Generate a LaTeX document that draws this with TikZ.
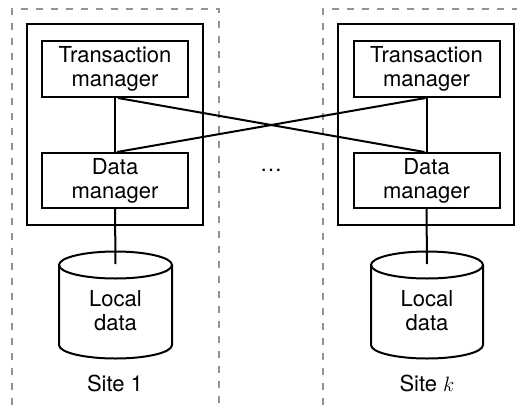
\documentclass[tikz,border=0pt]{standalone}
\usepackage{fontspec}
\setmainfont{TeX Gyre Heros}
\begin{document}
\begin{tikzpicture}[x=1pt,y=1pt,
  thickline/.style={line width=2pt, draw=black},
  sitebox/.style={draw, line width=1.3pt, gray!85, dash pattern=on 7pt off 8pt},
  outerbox/.style={draw, line width=2pt, minimum width=176pt, minimum height=201pt, inner sep=0pt},
  mgrbox/.style={draw, line width=2pt, minimum width=146pt, minimum height=56pt, inner sep=0pt,
    align=center, font=\fontsize{22}{24}\selectfont},
  label text/.style={align=center, font=\fontsize{22}{24}\selectfont, inner sep=0pt}
]
\useasboundingbox (0,-405) rectangle (517,0);

% site borders (dashed)
\draw[sitebox] (12,-405) -- (12,-9) -- (219,-9) -- (219,-405);
\draw[sitebox] (323,-405) -- (323,-9) -- (517,-9);

% ---------- Site 1 ----------
\node[outerbox] (out1) at (115,-124.5) {};
\node[mgrbox] (tm1) at (115,-69) {Transaction\\manager};
\node[mgrbox, minimum height=55pt] (dm1) at (115,-180.5) {Data\\manager};
\coordinate (cyl1top) at (115.5,-264);
\draw[thickline] (59,-265) -- (59,-345)
  arc[start angle=180, end angle=360, x radius=56.5pt, y radius=13.5pt] -- (172,-265);
\draw[thickline] (115.5,-265) ellipse [x radius=56.5pt, y radius=13.5pt];
\node[label text] (ld1) at (115.5,-311) {Local\\data};
\node[label text] (site1) at (115,-383) {Site 1};

% ---------- Site k ----------
\node[outerbox] (out2) at (426,-124.5) {};
\node[mgrbox] (tm2) at (426.5,-69) {Transaction\\manager};
\node[mgrbox, minimum height=55pt] (dm2) at (426.5,-180.5) {Data\\manager};
\coordinate (cyl2top) at (427,-264);
\draw[thickline] (371,-265) -- (371,-345)
  arc[start angle=180, end angle=360, x radius=56pt, y radius=13.5pt] -- (483,-265);
\draw[thickline] (427,-265) ellipse [x radius=56pt, y radius=13.5pt];
\node[label text] (ld2) at (427,-311) {Local\\data};
\node[label text] (sitek) at (427,-383) {Site $k$};

% dots between sites
\node[label text] (dots) at (271,-170) {\dots};

% connectors
\draw[thickline] (tm1.south) -- (dm1.north);
\draw[thickline] (tm2.south) -- (dm2.north);
\draw[thickline] ([xshift=3pt]tm1.south) -- ([xshift=-2pt]dm2.north);
\draw[thickline] ([xshift=2pt]dm1.north) -- ([xshift=-1pt]tm2.south);
\draw[thickline] (dm1.south) -- (cyl1top);
\draw[thickline] (dm2.south) -- (cyl2top);
\end{tikzpicture}
\end{document}
